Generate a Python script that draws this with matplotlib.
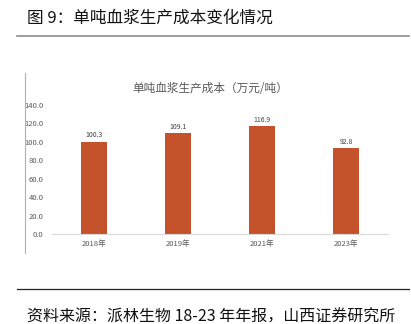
import matplotlib.pyplot as plt

plt.rcParams['font.family'] = ['Noto Sans CJK SC', 'DejaVu Sans']

years = ["2018年", "2019年", "2021年", "2023年"]
cost = [100.3, 109.1, 116.9, 92.8]
y_ticks = [0, 20, 40, 60, 80, 100, 120, 140]

W, H = 411, 324
fig = plt.figure(figsize=(W / 100, H / 100), dpi=100)

# page header / footer
fig.text(27 / W, 1 - 18 / H, "图 9：单吨血浆生产成本变化情况", fontsize=12,
         color="#111111", va="center", ha="left")
fig.add_artist(plt.Line2D([17 / W, 409 / W], [1 - 36 / H] * 2,
                          color="#8c8c8c", lw=1.2))
fig.add_artist(plt.Line2D([17 / W, 409 / W], [1 - 289 / H] * 2,
                          color="#222222", lw=0.9))
fig.text(27 / W, 1 - 317 / H, "资料来源：派林生物 18-23 年年报，山西证券研究所",
         fontsize=11.5, color="#111111", va="center", ha="left")
# left border of embedded chart image
fig.add_artist(plt.Line2D([25 / W] * 2, [1 - 73 / H, 1 - 253 / H],
                          color="#b0b0b0", lw=0.8))

ax = fig.add_axes([52 / W, (H - 234) / H, 336 / W, 129 / H])
x = list(range(len(years)))
ax.bar(x, cost, width=0.32, color="#C4522B", zorder=2)
for xi, v in zip(x, cost):
    ax.text(xi, v + 3, f"{v:.1f}", ha="center", va="bottom",
            fontsize=5, color="#404040")

ax.set_xlim(-0.5, 3.5)
ax.set_ylim(0, 140)
ax.set_xticks(x)
ax.set_xticklabels(years, fontsize=5.5, color="#595959")
ax.set_yticks(y_ticks)
ax.set_yticklabels([f"{t:.1f}" for t in y_ticks], fontsize=5.5, color="#595959")
ax.tick_params(length=0, pad=4)
ax.tick_params(axis="y", pad=6)
for s in ["top", "right", "left"]:
    ax.spines[s].set_visible(False)
ax.spines["bottom"].set_color("#d9d9d9")
ax.spines["bottom"].set_linewidth(0.8)

fig.text(210 / W, 1 - 88 / H, "单吨血浆生产成本（万元/吨）", fontsize=8.4,
         color="#595959", ha="center", va="center")

fig.savefig("out.png", dpi=100)
